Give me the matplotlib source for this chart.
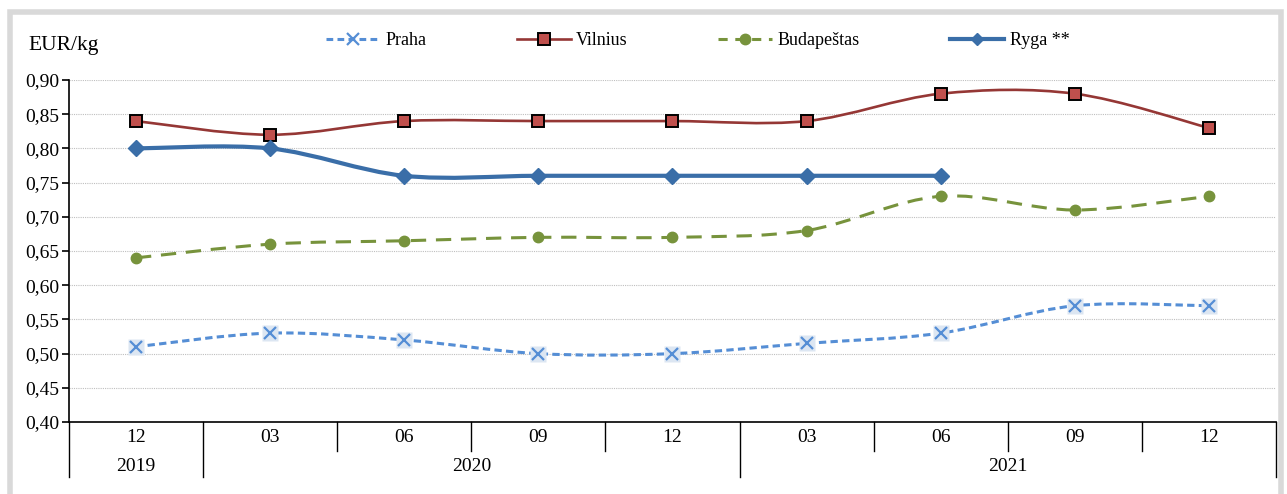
import numpy as np
import matplotlib
matplotlib.use("Agg")
import matplotlib.pyplot as plt
from matplotlib.path import Path
from matplotlib.patches import PathPatch, Rectangle
from matplotlib.lines import Line2D

plt.rcParams['font.family'] = ['Liberation Serif', 'DejaVu Serif']

months = ['12', '03', '06', '09', '12', '03', '06', '09', '12']
years = ['2019', '2020', '2021']
year_spans = [(0, 0), (1, 4), (5, 8)]

praha = [0.51, 0.53, 0.52, 0.50, 0.50, 0.515, 0.53, 0.57, 0.57]
vilnius = [0.84, 0.82, 0.84, 0.84, 0.84, 0.84, 0.88, 0.88, 0.83]
budapestas = [0.64, 0.66, 0.665, 0.67, 0.67, 0.68, 0.73, 0.71, 0.73]
ryga = [0.80, 0.80, 0.76, 0.76, 0.76, 0.76, 0.76]


def smooth_path(xs, ys):
    # Excel-like smoothed line: cubic bezier with catmull-rom control points
    p = np.column_stack([xs, ys]).astype(float)
    n = len(p)
    verts = [p[0]]
    codes = [Path.MOVETO]
    for i in range(n - 1):
        p0 = p[i - 1] if i > 0 else p[i]
        p1 = p[i]
        p2 = p[i + 1]
        p3 = p[i + 2] if i + 2 < n else p[i + 1]
        c1 = p1 + (p2 - p0) / 6.0
        c2 = p2 - (p3 - p1) / 6.0
        verts += [c1, c2, p2]
        codes += [Path.CURVE4] * 3
    return Path(verts, codes)


fig = plt.figure(figsize=(12.87, 4.94), dpi=100)
fig.patches.append(Rectangle((0.0075, -0.02), 0.988, 0.995, transform=fig.transFigure,
                             fill=False, edgecolor='#d9d9d9', linewidth=4))
ax = fig.add_axes([0.0536, 0.1457, 0.9378, 0.6923])

x = np.arange(len(months))

series = [
    (praha, '#558ed5', (0, (2.4, 1.4)), 2.2, 'Praha'),
    (vilnius, '#953735', 'solid', 1.9, 'Vilnius'),
    (budapestas, '#77933c', (0, (5, 3.2)), 2.2, 'Budapeštas'),
    (ryga, '#3a6ea8', 'solid', 3.0, 'Ryga **'),
]
for vals, col, ls, lw, name in series:
    xs = x[:len(vals)]
    patch = PathPatch(smooth_path(xs, vals), fill=False, edgecolor=col,
                      linewidth=lw, linestyle=ls, capstyle='butt', zorder=3)
    ax.add_patch(patch)

# markers
ax.plot(x, praha, linestyle='none', marker='s', markersize=11,
        markerfacecolor='#dce6f2', markeredgecolor='none', zorder=4)
ax.plot(x, praha, linestyle='none', marker='x', markersize=9, markeredgewidth=1.6,
        color='#558ed5', zorder=5)
ax.plot(x, vilnius, linestyle='none', marker='s', markersize=8,
        markerfacecolor='#c0504d', markeredgecolor='black', markeredgewidth=1.4, zorder=5)
ax.plot(x, budapestas, linestyle='none', marker='o', markersize=7.5,
        color='#77933c', zorder=5)
ax.plot(x[:len(ryga)], ryga, linestyle='none', marker='D', markersize=8,
        color='#3a6ea8', zorder=5)

ax.set_xlim(-0.5, len(months) - 0.5)
ax.set_ylim(0.40, 0.90)
ax.set_yticks(np.arange(0.40, 0.901, 0.05))
ax.set_yticklabels([f'{v:.2f}'.replace('.', ',') for v in np.arange(0.40, 0.901, 0.05)],
                   fontsize=14)
ax.yaxis.grid(True, color='#bfbfbf', linestyle=(0, (1, 1)), linewidth=0.8)
ax.set_axisbelow(True)
for s in ['top', 'right']:
    ax.spines[s].set_visible(False)
ax.spines['left'].set_linewidth(1.2)
ax.spines['bottom'].set_linewidth(1.2)
ax.tick_params(axis='y', length=5, width=1.2, pad=2)
ax.set_xticks([])

# category labels and dividers
tr = ax.get_xaxis_transform()
for i, m in enumerate(months):
    ax.text(i, -0.046, m, transform=tr, ha='center', va='center', fontsize=14)
bounds = {-0.5, len(months) - 0.5}
for a, b in year_spans:
    bounds.add(a - 0.5)
    bounds.add(b + 0.5)
for i in range(len(months) + 1):
    xb = i - 0.5
    y0 = -0.161 if xb in bounds else -0.085
    ax.add_line(Line2D([xb, xb], [0, y0], transform=tr, color='black',
                       linewidth=1.0, clip_on=False))
for (a, b), yr in zip(year_spans, years):
    ax.text((a + b) / 2, -0.13, yr, transform=tr, ha='center', va='center', fontsize=14)

fig.text(0.022, 0.908, 'EUR/kg', fontsize=15.5, ha='left', va='center')

handles = [
    Line2D([], [], color='#558ed5', linestyle=(0, (2.2, 1.4)), linewidth=2.2, marker='x',
           markersize=8, markeredgewidth=1.6),
    Line2D([], [], color='#953735', linewidth=1.9, marker='s', markersize=8,
           markerfacecolor='#c0504d', markeredgecolor='black', markeredgewidth=1.4),
    Line2D([], [], color='#77933c', linestyle=(0, (3, 2.5)), linewidth=2.2, marker='o',
           markersize=7.5),
    Line2D([], [], color='#3a6ea8', linewidth=3.0, marker='D', markersize=6),
]
fig.legend(handles, [s[4] for s in series], loc='center', bbox_to_anchor=(0.542, 0.918),
           ncol=4, frameon=False, fontsize=13, handlelength=3.0, columnspacing=5.0,
           handletextpad=0.3)

fig.savefig('out.png', dpi=100)
